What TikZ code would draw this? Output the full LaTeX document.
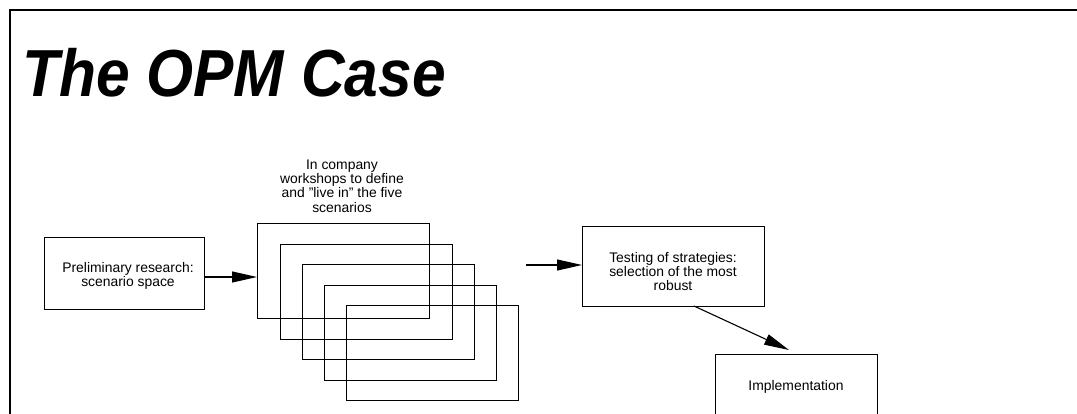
\documentclass[tikz,border=0pt]{standalone}
\usepackage{fontspec}
\setmainfont{Liberation Sans}
\usetikzlibrary{arrows.meta}
\begin{document}
\begin{tikzpicture}[x=1pt,y=-1pt,
  box/.style={draw, line width=1.1pt, minimum width=#1, inner sep=0pt, anchor=north west},
  txt/.style={font=\fontsize{13.9}{14.4}\selectfont, align=center, inner sep=0pt},
  arr/.style={line width=1.1pt, -{Triangle[length=25pt,width=11pt]}}]
\useasboundingbox (0,0) rectangle (1077,414);
\clip (0,0) rectangle (1077,414);
\fill[white] (0,0) rectangle (1077,414);
% frame
\draw[line width=2.4pt] (10,430) -- (10,10) -- (1090,10);
% title
\node[anchor=base west, inner sep=0pt, font=\fontsize{60.5}{60}\selectfont\bfseries\itshape] (title) at (22,97) {\scalebox{1}[1.1]{The OPM Case}};
% preliminary
\node[box=160pt, minimum height=72pt] (prel) at (44,237) {};
\node[txt] (prelt) at (128,276) {Preliminary research:\\scenario space};
% workshop stack
\node[box=172pt, minimum height=95pt] (w5) at (346,305) {};
\node[box=172pt, minimum height=95pt] (w4) at (324,285) {};
\node[box=172pt, minimum height=95pt] (w3) at (302,264) {};
\node[box=172pt, minimum height=95pt] (w2) at (280,244) {};
\node[box=172pt, minimum height=95pt] (w1) at (257,223) {};
\node[txt] (wt) at (342,186) {In company\\workshops to define\\and "live in" the five\\scenarios};
% testing
\node[box=182pt, minimum height=80pt] (test) at (582,226) {};
\node[txt] (testt) at (673,271.5) {Testing of strategies:\\selection of the most\\robust};
% implementation
\node[box=162pt, minimum height=80pt] (impl) at (715,354) {};
\node[txt] (implt) at (796,387) {Implementation};
% arrows
\coordinate (a1) at (0,277);
\draw[arr] (prel.east |- a1) -- (w1.west |- a1);
\coordinate (a2s) at (526,265);
\draw[arr] (a2s) -- (test.west |- a2s);
\coordinate (a3s) at (694,306);
\coordinate (a3e) at (789,350);
\draw[arr] (a3s) -- (a3e);
\end{tikzpicture}
\end{document}
